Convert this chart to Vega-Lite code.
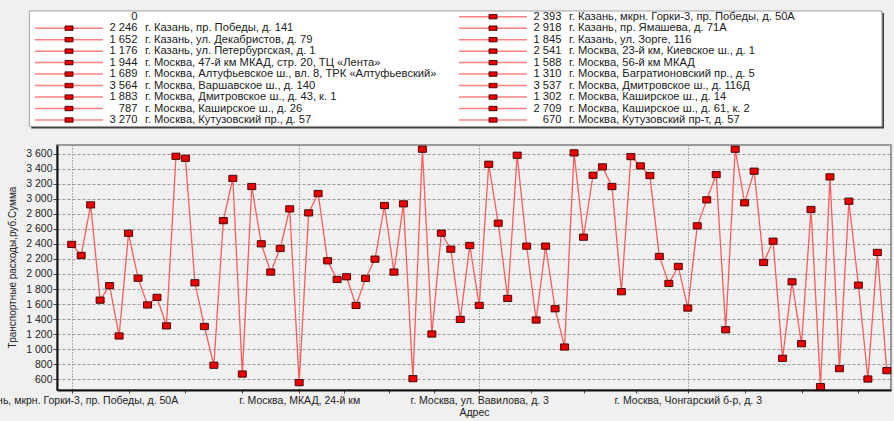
{
  "$schema": "https://vega.github.io/schema/vega-lite/v6.json",
  "width": 834,
  "height": 245,
  "autosize": {"type": "none"},
  "padding": {"left": 57, "top": 145, "right": 3, "bottom": 31},
  "background": "#f0f0f0",
  "config": {
    "locale": {"number": {"decimal": ",", "thousands": " ", "grouping": [3], "currency": ["", " ₽"]}},
    "view": {"stroke": "#9a9a9a", "strokeWidth": 2},
    "font": "Liberation Sans"
  },
  "data": {
    "values": [
      {"n": 1, "value": 2393, "address": "г. Казань, мкрн. Горки-3, пр. Победы, д. 50А"},
      {"n": 2, "value": 2246, "address": "г. Казань, пр. Победы, д. 141"},
      {"n": 3, "value": 2918, "address": "г. Казань, пр. Ямашева, д. 71А"},
      {"n": 4, "value": 1652, "address": "г. Казань, ул. Декабристов, д. 79"},
      {"n": 5, "value": 1845, "address": "г. Казань, ул. Зорге, 116"},
      {"n": 6, "value": 1176, "address": "г. Казань, ул. Петербургская, д. 1"},
      {"n": 7, "value": 2541, "address": "г. Москва, 23-й км, Киевское ш., д. 1"},
      {"n": 8, "value": 1944, "address": "г. Москва, 47-й км МКАД, стр. 20, ТЦ «Лента»"},
      {"n": 9, "value": 1588, "address": "г. Москва, 56-й км МКАД"},
      {"n": 10, "value": 1689, "address": "г. Москва, Алтуфьевское ш., вл. 8, ТРК «Алтуфьевский»"},
      {"n": 11, "value": 1310, "address": "г. Москва, Багратионовский пр., д. 5"},
      {"n": 12, "value": 3564, "address": "г. Москва, Варшавское ш., д. 140"},
      {"n": 13, "value": 3537, "address": "г. Москва, Дмитровское ш., д. 116Д"},
      {"n": 14, "value": 1883, "address": "г. Москва, Дмитровское ш., д. 43, к. 1"},
      {"n": 15, "value": 1302, "address": "г. Москва, Каширское ш., д. 14"},
      {"n": 16, "value": 787, "address": "г. Москва, Каширское ш., д. 26"},
      {"n": 17, "value": 2709, "address": "г. Москва, Каширское ш., д. 61, к. 2"},
      {"n": 18, "value": 3270, "address": "г. Москва, Кутузовский пр., д. 57"},
      {"n": 19, "value": 670, "address": "г. Москва, Кутузовский пр-т, д. 57"},
      {"n": 20, "value": 3162},
      {"n": 21, "value": 2401},
      {"n": 22, "value": 2025},
      {"n": 23, "value": 2339},
      {"n": 24, "value": 2865},
      {"n": 25, "value": 556, "address": "г. Москва, МКАД, 24-й км"},
      {"n": 26, "value": 2812},
      {"n": 27, "value": 3069},
      {"n": 28, "value": 2175},
      {"n": 29, "value": 1927},
      {"n": 30, "value": 1963},
      {"n": 31, "value": 1582},
      {"n": 32, "value": 1941},
      {"n": 33, "value": 2197},
      {"n": 34, "value": 2910},
      {"n": 35, "value": 2025},
      {"n": 36, "value": 2932},
      {"n": 37, "value": 609},
      {"n": 38, "value": 3658},
      {"n": 39, "value": 1202},
      {"n": 40, "value": 2542},
      {"n": 41, "value": 2330},
      {"n": 42, "value": 1396},
      {"n": 43, "value": 2379},
      {"n": 44, "value": 1582, "address": "г. Москва, ул. Вавилова, д. 3"},
      {"n": 45, "value": 3458},
      {"n": 46, "value": 2675},
      {"n": 47, "value": 1675},
      {"n": 48, "value": 3578},
      {"n": 49, "value": 2370},
      {"n": 50, "value": 1388},
      {"n": 51, "value": 2370},
      {"n": 52, "value": 1538},
      {"n": 53, "value": 1029},
      {"n": 54, "value": 3609},
      {"n": 55, "value": 2489},
      {"n": 56, "value": 3312},
      {"n": 57, "value": 3423},
      {"n": 58, "value": 3162},
      {"n": 59, "value": 1764},
      {"n": 60, "value": 3560},
      {"n": 61, "value": 3436},
      {"n": 62, "value": 3308},
      {"n": 63, "value": 2233},
      {"n": 64, "value": 1874},
      {"n": 65, "value": 2100},
      {"n": 66, "value": 1547, "address": "г. Москва, Чонгарский б-р, д. 3"},
      {"n": 67, "value": 2640},
      {"n": 68, "value": 2985},
      {"n": 69, "value": 3321},
      {"n": 70, "value": 1259},
      {"n": 71, "value": 3658},
      {"n": 72, "value": 2945},
      {"n": 73, "value": 3366},
      {"n": 74, "value": 2153},
      {"n": 75, "value": 2436},
      {"n": 76, "value": 879},
      {"n": 77, "value": 1896},
      {"n": 78, "value": 1073},
      {"n": 79, "value": 2857},
      {"n": 80, "value": 503},
      {"n": 81, "value": 3290},
      {"n": 82, "value": 742},
      {"n": 83, "value": 2967},
      {"n": 84, "value": 1852},
      {"n": 85, "value": 604},
      {"n": 86, "value": 2286},
      {"n": 87, "value": 715}
    ]
  },
  "layer": [
    {
      "encoding": {
        "x": {
          "field": "n",
          "type": "quantitative",
          "scale": {"domain": [-0.55, 87.44], "nice": false, "zero": false},
          "axis": {
            "title": "Адрес",
            "values": [1, 7, 13, 19, 25, 29.75, 34.5, 39.25, 44, 49.5, 55, 60.5, 66, 72, 78, 84],
            "labelExpr": "datum.value == 1 ? 'г. Казань, мкрн. Горки-3, пр. Победы, д. 50А' : datum.value == 25 ? 'г. Москва, МКАД, 24-й км' : datum.value == 44 ? 'г. Москва, ул. Вавилова, д. 3' : datum.value == 66 ? 'г. Москва, Чонгарский б-р, д. 3' : ''",
            "labelFontSize": 10.5,
            "labelColor": "#222222",
            "labelOverlap": false,
            "labelBound": false,
            "labelFlush": false,
            "labelLimit": 0,
            "labelPadding": 2,
            "tickSize": 3,
            "tickColor": "#444444",
            "domainColor": "#111111",
            "domainWidth": 2,
            "grid": true,
            "gridColor": "#6a6a6a",
            "gridDash": [1, 2],
            "gridWidth": 1,
            "gridOpacity": {"condition": {"test": "datum.value == 1 || datum.value == 25 || datum.value == 44 || datum.value == 66", "value": 1}, "value": 0},
            "titleFontSize": 10.5,
            "titleFontWeight": "normal",
            "titleColor": "#222222",
            "titleBaseline": "top",
            "titleY": 17
          }
        },
        "y": {
          "field": "value",
          "type": "quantitative",
          "scale": {"domain": [458, 3714], "nice": false, "zero": false},
          "axis": {
            "title": "Транспортные расходы,руб.Сумма",
            "values": [600, 800, 1000, 1200, 1400, 1600, 1800, 2000, 2200, 2400, 2600, 2800, 3000, 3200, 3400, 3600],
            "format": ",d",
            "labelFontSize": 10.5,
            "labelColor": "#222222",
            "labelPadding": 1,
            "tickSize": 4,
            "tickColor": "#444444",
            "domainColor": "#111111",
            "domainWidth": 2,
            "grid": true,
            "gridColor": "#9a9a9a",
            "gridDash": [3, 2],
            "gridWidth": 1,
            "titleFontSize": 10,
            "titleFontWeight": "normal",
            "titleColor": "#222222",
            "titleAngle": -90,
            "titleAlign": "center",
            "titleBaseline": "middle",
            "titleX": -45,
            "titleY": 122
          }
        }
      },
      "layer": [
        {"mark": {"type": "line", "color": "#ff5c5c", "strokeWidth": 1.3}},
        {"mark": {"type": "point", "shape": "M-1,-0.78H1V0.78H-1Z", "size": 64, "filled": true, "fill": "#ee0000", "stroke": "#3a0000", "strokeWidth": 0.9, "opacity": 1}}
      ]
    },
    {
      "layer": [
        {
          "data": {"values": [{}]},
          "mark": {"type": "rect", "fill": "#404040", "xOffset": 2, "x2Offset": 2, "yOffset": 2, "y2Offset": 2},
          "encoding": {
            "x": {"datum": -0.0936, "type": "quantitative", "scale": {"domain": [0, 1], "range": [12, 436]}, "axis": null},
            "x2": {"datum": 1.9175},
            "y": {"datum": -0.497, "type": "quantitative", "scale": {"domain": [0, 9], "range": [-128.3, -25]}, "axis": null},
            "y2": {"datum": 9.56}
          }
        },
        {
          "data": {"values": [{}]},
          "mark": {"type": "rect", "fill": "#ffffff", "stroke": "#a0a0a0", "strokeWidth": 1},
          "encoding": {
            "x": {"datum": -0.0936, "type": "quantitative", "scale": {"domain": [0, 1], "range": [12, 436]}, "axis": null},
            "x2": {"datum": 1.9175},
            "y": {"datum": -0.497, "type": "quantitative", "scale": {"domain": [0, 9], "range": [-128.3, -25]}, "axis": null},
            "y2": {"datum": 9.56}
          }
        },
        {
          "data": {"values": [{"label": "0"}]},
          "mark": {"type": "text", "align": "right", "baseline": "middle", "dx": 68.5, "fontSize": 11.2, "color": "#1a1a1a"},
          "encoding": {
            "x": {"datum": 0, "type": "quantitative", "scale": {"domain": [0, 1], "range": [12, 436]}, "axis": null},
            "y": {"datum": 0, "type": "quantitative", "scale": {"domain": [0, 9], "range": [-128.3, -25]}, "axis": null},
            "text": {"field": "label"}
          }
        },
        {
          "transform": [
            {"filter": "datum.n <= 19"},
            {"calculate": "datum.n % 2", "as": "col"},
            {"calculate": "floor(datum.n / 2)", "as": "row"}
          ],
          "encoding": {
            "x": {"field": "col", "type": "quantitative", "scale": {"domain": [0, 1], "range": [12, 436]}, "axis": null},
            "y": {"field": "row", "type": "quantitative", "scale": {"domain": [0, 9], "range": [-128.3, -25]}, "axis": null}
          },
          "layer": [
            {"mark": {"type": "rule", "xOffset": -34, "x2Offset": 34, "color": "#ff8080", "strokeWidth": 1.5}, "encoding": {"x2": {"field": "col"}}},
            {"mark": {"type": "point", "shape": "M-1,-0.55H1V0.55H-1Z", "size": 64, "filled": true, "fill": "#ee0000", "stroke": "#3a0000", "strokeWidth": 0.9, "opacity": 1}},
            {"mark": {"type": "text", "align": "right", "baseline": "middle", "dx": 68.5, "fontSize": 11.2, "color": "#1a1a1a"}, "encoding": {"text": {"field": "value", "type": "quantitative", "format": ",d"}}},
            {"mark": {"type": "text", "align": "left", "baseline": "middle", "dx": 76, "fontSize": 11.2, "color": "#1a1a1a"}, "encoding": {"text": {"field": "address"}}}
          ]
        }
      ]
    }
  ],
  "resolve": {"scale": {"x": "independent", "y": "independent"}}
}
